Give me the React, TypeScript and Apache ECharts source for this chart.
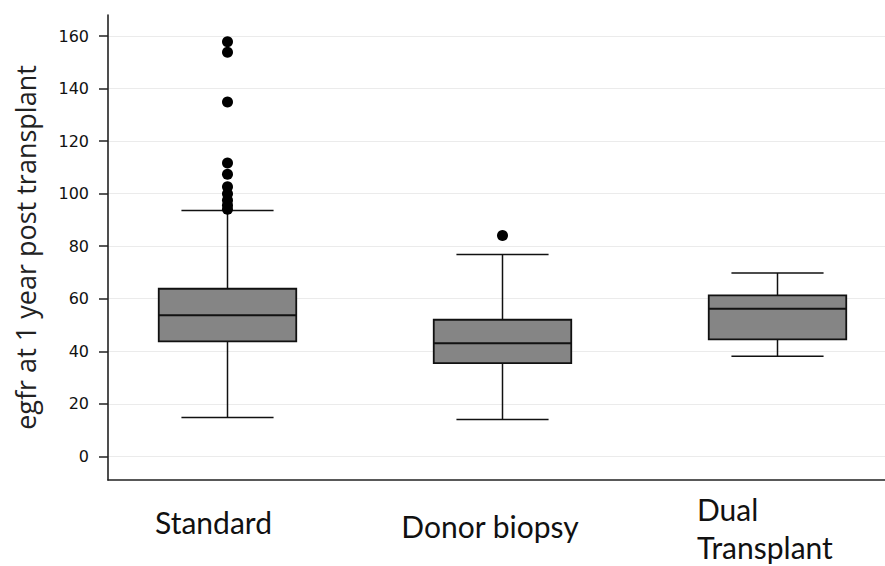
import React, { useEffect, useRef } from "react";
import * as echarts from "echarts";

// ---- data ----
const categories = ["Standard", "Donor biopsy", "Dual\nTransplant"];
// [lower whisker, Q1, median, Q3, upper whisker]
const standardBox = [14.8, 43.8, 53.7, 63.8, 93.6];
const donorBox = [14.0, 35.5, 43.1, 52.0, 76.8];
const dualBox = [38.1, 44.5, 56.2, 61.3, 69.8];
const standardOutliers = [157.8, 153.8, 134.9, 111.7, 107.4, 102.6, 100.0, 97.5, 95.6, 94.1];
const donorOutliers = [84.1];
const dualOutliers: number[] = [];
const yTicks = [0, 20, 40, 60, 80, 100, 120, 140, 160];
const yMin = -9;
const yMax = 168;
const yTitle = "egfr at 1 year post transplant";

export default function App() {
  const ref = useRef<HTMLDivElement>(null);

  useEffect(() => {
    if (!ref.current) return;
    const chart = echarts.init(ref.current, null, { renderer: "svg" });

    const boxes = [standardBox, donorBox, dualBox];
    const outliers = [standardOutliers, donorOutliers, dualOutliers];
    const boxData = categories.map((c, i) => [c, ...boxes[i]]);
    const outlierData: any[] = [];
    outliers.forEach((arr, i) => arr.forEach((v) => outlierData.push([categories[i], v])));

    const labelRich: any = {
      s: { fontFamily: "Lato", fontSize: 30, color: "#111", lineHeight: 64, padding: [0, 28, 0, 0] },
      d: { fontFamily: "Lato", fontSize: 30, color: "#111", lineHeight: 72, padding: [0, 25, 0, 0] },
      t: { fontFamily: "Lato", fontSize: 30, color: "#111", lineHeight: 38, width: 155, align: "left", padding: [0, 6, 0, 0] },
    };
    const richKey = ["s", "d", "t"];

    const option: any = {
      animation: false,
      backgroundColor: "#ffffff",
      grid: [
        { left: 108, right: 0, top: 15, bottom: 86 },
        { left: 227.5, right: 107.5, top: 15, bottom: 86 },
      ],
      xAxis: [
        {
          gridIndex: 0,
          type: "value",
          min: 0,
          max: 1,
          axisLine: { show: true, onZero: false, lineStyle: { color: "#222", width: 1.6 } },
          axisTick: { show: false },
          axisLabel: { show: false },
          splitLine: { show: false },
        },
        {
          gridIndex: 1,
          type: "category",
          data: categories,
          boundaryGap: false,
          axisLine: { show: false, onZero: false },
          axisTick: { show: false },
          splitLine: { show: false },
          axisLabel: {
            margin: 10,
            interval: 0,
            formatter: (value: string, index: number) => {
              const k = richKey[index];
              return value
                .split("\n")
                .map((line) => `{${k}|${line}}`)
                .join("\n");
            },
            rich: labelRich,
          },
        },
      ],
      yAxis: [
        {
          gridIndex: 0,
          type: "value",
          min: yMin,
          max: yMax,
          name: yTitle,
          nameLocation: "middle",
          nameGap: 69,
          nameTextStyle: { fontFamily: "Open Sans", fontSize: 27, color: "#222" },
          axisLine: { show: true, onZero: false, lineStyle: { color: "#222", width: 1.6 } },
          axisTick: {
            show: true,
            inside: false,
            length: 9,
            customValues: yTicks,
            lineStyle: { color: "#222", width: 1.5 },
          },
          axisLabel: {
            customValues: yTicks,
            margin: 19,
            fontFamily: "DejaVu Sans",
            fontSize: 16,
            color: "#111",
          },
          splitLine: { show: true, lineStyle: { color: "#ebebeb", width: 1.2 } },
        },
        {
          gridIndex: 1,
          type: "value",
          min: yMin,
          max: yMax,
          show: false,
          splitLine: { show: false },
        },
      ],
      series: [
        {
          type: "custom",
          xAxisIndex: 1,
          yAxisIndex: 1,
          data: boxData,
          clip: false,
          encode: { x: 0, y: [1, 2, 3, 4, 5] },
          renderItem: (params: any, api: any) => {
            const x = api.value(0);
            const pMin = api.coord([x, api.value(1)]);
            const pQ1 = api.coord([x, api.value(2)]);
            const pMed = api.coord([x, api.value(3)]);
            const pQ3 = api.coord([x, api.value(4)]);
            const pMax = api.coord([x, api.value(5)]);
            const step = api.coord([1, 0])[0] - api.coord([0, 0])[0];
            const bw = step * 0.5;
            const cw = step * 0.335;
            const cx = pMed[0];
            const lineStyle = { stroke: "#111", lineWidth: 1.5 };
            return {
              type: "group",
              children: [
                { type: "line", shape: { x1: cx, y1: pMax[1], x2: cx, y2: pQ3[1] }, style: lineStyle },
                { type: "line", shape: { x1: cx, y1: pQ1[1], x2: cx, y2: pMin[1] }, style: lineStyle },
                { type: "line", shape: { x1: cx - cw / 2, y1: pMax[1], x2: cx + cw / 2, y2: pMax[1] }, style: lineStyle },
                { type: "line", shape: { x1: cx - cw / 2, y1: pMin[1], x2: cx + cw / 2, y2: pMin[1] }, style: lineStyle },
                {
                  type: "rect",
                  shape: { x: cx - bw / 2, y: pQ3[1], width: bw, height: pQ1[1] - pQ3[1] },
                  style: { fill: "#858585", stroke: "#111", lineWidth: 1.8 },
                },
                {
                  type: "line",
                  shape: { x1: cx - bw / 2, y1: pMed[1], x2: cx + bw / 2, y2: pMed[1] },
                  style: { stroke: "#111", lineWidth: 2 },
                },
              ],
            };
          },
        },
        {
          type: "scatter",
          xAxisIndex: 1,
          yAxisIndex: 1,
          data: outlierData,
          clip: false,
          symbol: "circle",
          symbolSize: 11,
          itemStyle: { color: "#000", opacity: 1 },
          z: 5,
        },
      ],
    };

    chart.setOption(option);
    return () => chart.dispose();
  }, []);

  return (
    <div
      ref={ref}
      style={{ position: "fixed", left: 0, top: 0, width: 885, height: 566, background: "#fff" }}
    />
  );
}
